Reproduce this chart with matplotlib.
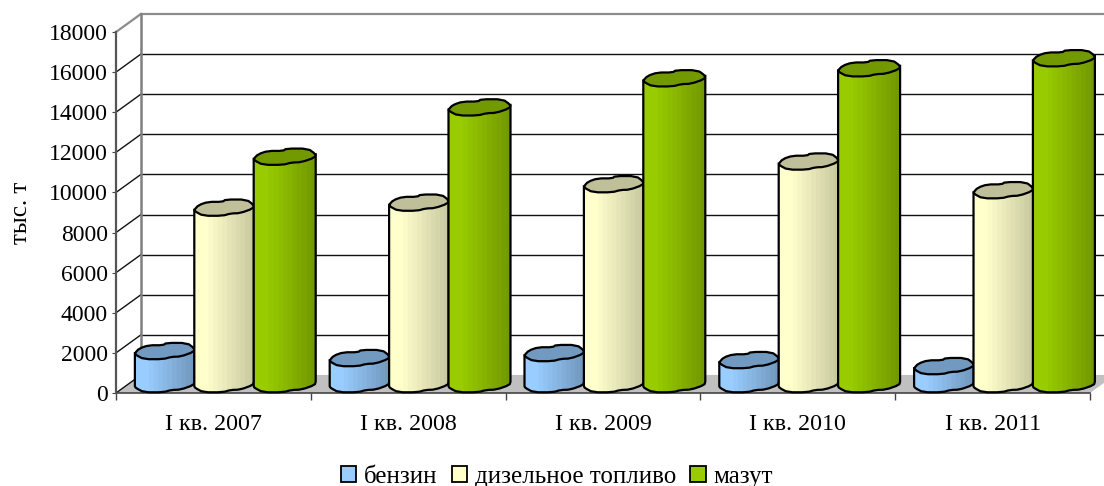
import numpy as np
import matplotlib
matplotlib.use("Agg")
import matplotlib.pyplot as plt
from matplotlib.patches import Patch, Polygon

plt.rcParams['font.family'] = ['Liberation Serif', 'DejaVu Serif']

# values, thousand tonnes
quarters = ['I кв. 2007', 'I кв. 2008', 'I кв. 2009', 'I кв. 2010', 'I кв. 2011']
benzin = [1650, 1300, 1550, 1200, 900]
dizel = [8800, 9050, 9970, 11100, 9670]
mazut = [11340, 13800, 15250, 15750, 16250]
series_names = ['бензин', 'дизельное топливо', 'мазут']
y_ticks = list(range(0, 18001, 2000))

# fake 3d box: how far the back wall is shifted from the front plane
DEPTH_X = 0.128
DEPTH_Y = 900
BAR_SHIFT = 0.055
CAP_W = 0.153
CAP_H = 414

# wobbly outline of the cylinder cap, unit size
CAP_U = np.array([-1, -.86, -.54, -.05, .05, .75, 1, .97, .54, .22, -.05, -.7, -.97])
CAP_V = np.array([-.28, .28, .68, .68, .96, .96, .28, -.12, -.68, -.72, -1, -1, -.48])
LOW_U = np.array([-1, -.97, -.7, -.05, .22, .54, .97, 1])
LOW_V = np.array([-.28, -.48, -1, -1, -.72, -.68, -.12, .28])

COLORS = [('#99CCFF', '#7299BF', '#7299BF'),
          ('#FFFFCC', '#CACAA2', '#BFBF99'),
          ('#99CC00', '#739900', '#739900')]
SLOTS = [-0.305, 0.0, 0.311]
WIDTHS = [1.0, 1.0, 1.04]


def mix(c1, c2, t):
    a = np.array(matplotlib.colors.to_rgb(c1))
    b = np.array(matplotlib.colors.to_rgb(c2))
    return tuple(a + (b - a) * t)


def soften(u, v, closed=False):
    """One pass of corner cutting so the outline is less stepped."""
    pts = np.column_stack((u, v))
    nxt = np.roll(pts, -1, axis=0) if closed else pts[1:]
    cur = pts if closed else pts[:-1]
    out = np.empty((len(cur) * 2, 2))
    out[0::2] = 0.75 * cur + 0.25 * nxt
    out[1::2] = 0.25 * cur + 0.75 * nxt
    if not closed:
        out = np.vstack((pts[0], out, pts[-1]))
    return out[:, 0], out[:, 1]


cap_u, cap_v = soften(CAP_U, CAP_V, closed=True)
low_u, low_v = soften(LOW_U, LOW_V)


def draw_cylinder(ax, xc, value, scale, colors, z):
    """One cylinder: banded body, outline, then the cap."""
    light, dark, top = colors
    hw = CAP_W * scale
    yc = DEPTH_Y / 2
    edges = np.linspace(-1, 1, 14)
    for i in range(len(edges) - 1):
        # bands overlap a little so no seam shows between them
        u = np.linspace(edges[i], min(edges[i + 1] + 0.04, 1), 6)
        low = yc + CAP_H * np.interp(u, low_u, low_v)
        t = max(0, (i - 2) / 10)
        ax.fill_between(xc + hw * u, low, value + yc, color=mix(light, dark, min(t, 1)),
                        lw=0, zorder=z + i * 0.001, clip_on=False)
    ox = np.concatenate(([-1], low_u, [1]))
    oy = np.concatenate(([value + yc - CAP_H * .28], yc + CAP_H * low_v, [value + yc + CAP_H * .28]))
    ax.plot(xc + hw * ox, oy, color='black', lw=1.6, zorder=z + 0.1, clip_on=False,
            solid_joinstyle='round')
    pts = np.column_stack((xc + hw * cap_u, value + yc + CAP_H * cap_v))
    ax.add_patch(Polygon(pts, closed=True, facecolor=top, edgecolor='black', lw=1.6,
                         zorder=z + 0.2, clip_on=False, joinstyle='round'))


fig = plt.figure(figsize=(11.04, 4.86), dpi=100)
ax = fig.add_axes([116 / 1104, 93 / 486, 974 / 1104, 361 / 486])
ax.set_xlim(0, 5)
ax.set_ylim(0, 18000)
for name in ['top', 'right']:
    ax.spines[name].set_visible(False)
ax.spines['left'].set_color('#555555')
ax.spines['left'].set_linewidth(1.6)
ax.spines['bottom'].set_color('#444444')
ax.spines['bottom'].set_linewidth(1.2)
ax.spines['left'].set_zorder(30)
ax.spines['bottom'].set_zorder(2)

# floor of the box
ax.add_patch(Polygon([(0, 0), (DEPTH_X, DEPTH_Y), (5 + DEPTH_X, DEPTH_Y), (5, 0)],
                     closed=True, facecolor='#C0C0C0', edgecolor='none', zorder=1, clip_on=False))

# back wall and the grid
for v in y_ticks:
    top = v == y_ticks[-1]
    c = '#8C8C8C' if top else '#111111'
    lw = 1.6 if top else 1.0
    if v > 0:
        ax.plot([DEPTH_X, 5 + DEPTH_X], [v + DEPTH_Y] * 2, color=c, lw=lw, zorder=1.5, clip_on=False)
    ax.plot([0, DEPTH_X], [v, v + DEPTH_Y], color=c, lw=lw, zorder=1.5, clip_on=False)
ax.plot([DEPTH_X, DEPTH_X], [DEPTH_Y, 18000 + DEPTH_Y], color='#808080', lw=1.8, zorder=1.6, clip_on=False)

z = 3
for i in range(len(quarters)):
    for s, vals in enumerate([benzin, dizel, mazut]):
        draw_cylinder(ax, i + 0.5 + BAR_SHIFT + SLOTS[s], vals[i], WIDTHS[s], COLORS[s], z)
        z += 1

ax.set_yticks(y_ticks)
ax.set_xticks(range(6))
ax.set_xticklabels([])
ax.set_xticks([i + 0.5 for i in range(5)], labels=quarters, minor=True)
ax.tick_params(axis='x', which='major', length=5, color='#444444', width=1)
ax.tick_params(axis='x', which='minor', length=0, pad=15, labelsize=17.3)
ax.tick_params(axis='y', length=3, color='#444444', pad=3, labelsize=17)
ax.set_ylabel('тыс. т', fontsize=18, labelpad=12)

handles = [Patch(facecolor=COLORS[k][0], edgecolor='black', lw=1.3) for k in range(3)]
fig.legend(handles, series_names, loc='lower center', bbox_to_anchor=(0.5045, -0.05), ncol=3, frameon=False,
           fontsize=18, handlelength=0.62, handleheight=0.62, handletextpad=0.32, columnspacing=0.55)

fig.savefig('out.png', dpi=100)
